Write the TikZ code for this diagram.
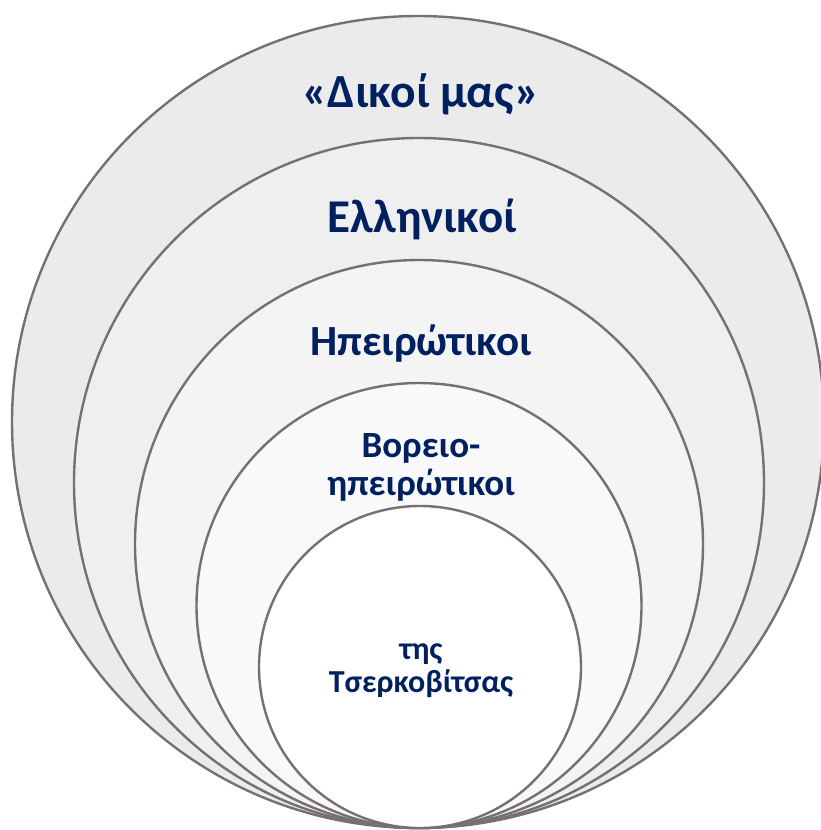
\documentclass[tikz,border=0pt]{standalone}
\usepackage{fontspec}
\setmainfont{Carlito}
\definecolor{navy}{HTML}{002060}
\definecolor{ring}{HTML}{767171}
\definecolor{fA}{HTML}{EBEBEB}
\definecolor{fB}{HTML}{EFEFEF}
\definecolor{fC}{HTML}{F4F4F4}
\definecolor{fD}{HTML}{F9F9F9}
\tikzset{
  ringc/.style={draw=ring, line width=2.4pt},
  lab/.style={text=navy, font=\bfseries, align=center, inner sep=0pt, anchor=base}
}
\begin{document}
\begin{tikzpicture}[x=1pt,y=-1pt]
\useasboundingbox (0,0) rectangle (821,830);
\begin{scope}
\clip (0,0) rectangle (821,830);
\path[ringc, fill=fA] (418,422) circle[radius=406];
\path[ringc, fill=fB] (419,483) circle[radius=345];
\path[ringc, fill=fC] (419,544) circle[radius=284];
\path[ringc, fill=fD] (419,605.5) circle[radius=222.5];
\path[ringc, fill=white] (420,667) circle[radius=161];
\end{scope}
\node[lab, font=\bfseries\fontsize{47.5}{55}\selectfont] (t1) at (421,107) {«Δικοί μας»};
\node[lab, font=\bfseries\fontsize{47}{54}\selectfont] (t2) at (422,232) {Ελληνικοί};
\node[lab, font=\bfseries\fontsize{43}{50}\selectfont] (t3) at (421,355) {Ηπειρώτικοι};
\node[lab, font=\bfseries\fontsize{37}{38}\selectfont] (t4) at (421,495) {Βορειο-\\ηπειρώτικοι};
\node[lab, font=\bfseries\fontsize{32}{33}\selectfont] (t5) at (421,692) {της\\Τσερκοβίτσας};
\end{tikzpicture}
\end{document}
